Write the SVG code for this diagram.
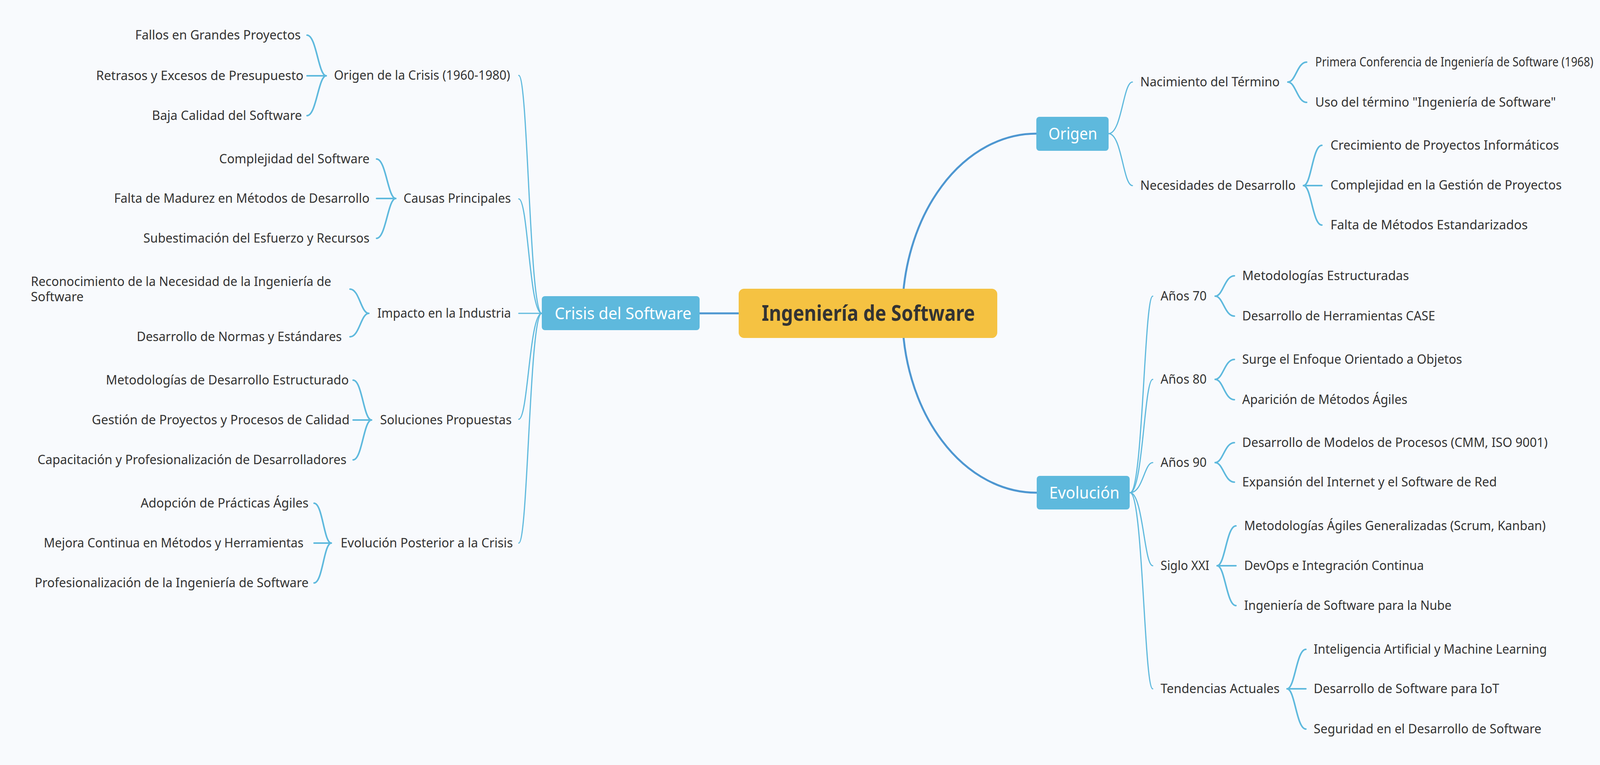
<svg xmlns="http://www.w3.org/2000/svg" width="4242" height="1958" viewBox="0 0 4242 1958">
<style>
.t{font-family:"Noto Sans","Open Sans",sans-serif;font-size:32px;fill:#333333}
.l1{font-family:"Noto Sans","Open Sans",sans-serif;font-size:42px;fill:#ffffff}
.c{font-family:"Noto Sans","Open Sans",sans-serif;font-size:56px;font-weight:bold;fill:#333333}
.box{fill:#5EB9DD}
.main{fill:none;stroke:#4E97D1;stroke-width:5;stroke-linecap:round}
.sub{fill:none;stroke:#5EB9DD;stroke-width:3;stroke-linecap:round}
.br{fill:none;stroke:#5EB9DD;stroke-width:4;stroke-linecap:round}
</style>
<rect x="0" y="0" width="4242" height="1958" fill="#F8FAFD"/>
<g id="connectors">
<path class="main" d="M1791 802 L1891 802"/>
<path class="main" d="M2310 802 A343 461 0 0 1 2653 342"/>
<path class="main" d="M2310 802 A343 459 0 0 0 2654 1261"/>
<path class="sub" d="M1387 802 C1355 802 1352 193 1328 193"/>
<path class="sub" d="M1387 802 C1355 802 1352 509 1328 509"/>
<path class="sub" d="M1387 802 L1328 802"/>
<path class="sub" d="M1387 802 C1355 802 1352 1073 1328 1073"/>
<path class="sub" d="M1387 802 C1355 802 1352 1390 1328 1390"/>
<path class="br" d="M835 194 C815 194 810 90 786 90"/>
<path class="br" d="M835 194 L786 194"/>
<path class="br" d="M835 194 C815 194 810 296 786 296"/>
<path class="br" d="M1013 508 C993 508 988 407 964 407"/>
<path class="br" d="M1013 508 L964 508"/>
<path class="br" d="M1013 508 C993 508 988 610 964 610"/>
<path class="br" d="M944 802 C924 802 920 740 896 740"/>
<path class="br" d="M944 802 C924 802 920 862 896 862"/>
<path class="br" d="M951 1075 C931 1075 927 973 904 973"/>
<path class="br" d="M951 1075 L904 1075"/>
<path class="br" d="M951 1075 C931 1075 927 1177 904 1177"/>
<path class="br" d="M848 1390 C829 1390 826 1288 804 1288"/>
<path class="br" d="M848 1390 L804 1390"/>
<path class="br" d="M848 1390 C829 1390 826 1492 804 1492"/>
<path class="sub" d="M2838 342 C2872 342 2875 210 2899 210"/>
<path class="sub" d="M2838 342 C2872 342 2875 475 2899 475"/>
<path class="br" d="M3297 210 C3317 210 3321 159 3345 159"/>
<path class="br" d="M3297 210 C3317 210 3321 262 3345 262"/>
<path class="br" d="M3337 475 C3357 475 3360 372 3384 372"/>
<path class="br" d="M3337 475 L3384 475"/>
<path class="br" d="M3337 475 C3357 475 3360 576 3384 576"/>
<path class="sub" d="M2893 1261 C2926 1261 2929 758 2951 758"/>
<path class="sub" d="M2893 1261 C2926 1261 2929 971 2951 971"/>
<path class="sub" d="M2893 1261 C2926 1261 2929 1184 2951 1184"/>
<path class="sub" d="M2893 1261 C2926 1261 2929 1448 2951 1448"/>
<path class="sub" d="M2893 1261 C2926 1261 2929 1763 2951 1763"/>
<path class="br" d="M3111 758 C3131 758 3135 706 3160 706"/>
<path class="br" d="M3111 758 C3131 758 3135 809 3160 809"/>
<path class="br" d="M3111 971 C3131 971 3135 920 3160 920"/>
<path class="br" d="M3111 971 C3131 971 3135 1023 3160 1023"/>
<path class="br" d="M3111 1184 C3131 1184 3135 1133 3160 1133"/>
<path class="br" d="M3111 1184 C3131 1184 3135 1234 3160 1234"/>
<path class="br" d="M3116 1448 C3136 1448 3140 1346 3164 1346"/>
<path class="br" d="M3116 1448 L3164 1448"/>
<path class="br" d="M3116 1448 C3136 1448 3140 1550 3164 1550"/>
<path class="br" d="M3295 1763 C3315 1763 3319 1662 3343 1662"/>
<path class="br" d="M3295 1763 L3343 1763"/>
<path class="br" d="M3295 1763 C3315 1763 3319 1866 3343 1866"/>
</g>
<g id="n-central">
<rect x="1891" y="739" width="662" height="126" rx="14" fill="#F5C242"/>
<text class="c" x="1950" y="821" textLength="546" lengthAdjust="spacingAndGlyphs">Ingeniería de Software</text>
</g>
<g id="n-crisis">
<rect class="box" x="1387" y="758" width="404" height="87" rx="8"/>
<text class="l1" x="1420" y="817" textLength="350" lengthAdjust="spacingAndGlyphs">Crisis del Software</text>
</g>
<g id="n-origen">
<rect class="box" x="2653" y="299" width="185" height="87" rx="8"/>
<text class="l1" x="2684" y="357" textLength="125" lengthAdjust="spacingAndGlyphs">Origen</text>
</g>
<g id="n-evolucion">
<rect class="box" x="2654" y="1218" width="238" height="86" rx="8"/>
<text class="l1" x="2686" y="1276" textLength="180" lengthAdjust="spacingAndGlyphs">Evolución</text>
</g>
<g id="n-origen-crisis"><text class="t" x="855" y="204" textLength="451" lengthAdjust="spacingAndGlyphs">Origen de la Crisis (1960-1980)</text></g>
<g id="n-fallos"><text class="t" x="346" y="101" textLength="424" lengthAdjust="spacingAndGlyphs">Fallos en Grandes Proyectos</text></g>
<g id="n-retrasos"><text class="t" x="246" y="205" textLength="531" lengthAdjust="spacingAndGlyphs">Retrasos y Excesos de Presupuesto</text></g>
<g id="n-baja"><text class="t" x="389" y="307" textLength="384" lengthAdjust="spacingAndGlyphs">Baja Calidad del Software</text></g>
<g id="n-causas"><text class="t" x="1033" y="519" textLength="275" lengthAdjust="spacingAndGlyphs">Causas Principales</text></g>
<g id="n-complejidad"><text class="t" x="561" y="418" textLength="385" lengthAdjust="spacingAndGlyphs">Complejidad del Software</text></g>
<g id="n-falta-madurez"><text class="t" x="292" y="519" textLength="654" lengthAdjust="spacingAndGlyphs">Falta de Madurez en Métodos de Desarrollo</text></g>
<g id="n-subestimacion"><text class="t" x="367" y="621" textLength="579" lengthAdjust="spacingAndGlyphs">Subestimación del Esfuerzo y Recursos</text></g>
<g id="n-impacto"><text class="t" x="966" y="813" textLength="342" lengthAdjust="spacingAndGlyphs">Impacto en la Industria</text></g>
<g id="n-reconocimiento"><text class="t" x="79" y="732" textLength="769" lengthAdjust="spacingAndGlyphs">Reconocimiento de la Necesidad de la Ingeniería de</text><text class="t" x="79" y="771" textLength="135" lengthAdjust="spacingAndGlyphs">Software</text></g>
<g id="n-normas"><text class="t" x="350" y="873" textLength="525" lengthAdjust="spacingAndGlyphs">Desarrollo de Normas y Estándares</text></g>
<g id="n-soluciones"><text class="t" x="973" y="1086" textLength="337" lengthAdjust="spacingAndGlyphs">Soluciones Propuestas</text></g>
<g id="n-metod-estruct"><text class="t" x="271" y="984" textLength="622" lengthAdjust="spacingAndGlyphs">Metodologías de Desarrollo Estructurado</text></g>
<g id="n-gestion"><text class="t" x="235" y="1086" textLength="660" lengthAdjust="spacingAndGlyphs">Gestión de Proyectos y Procesos de Calidad</text></g>
<g id="n-capacitacion"><text class="t" x="96" y="1188" textLength="791" lengthAdjust="spacingAndGlyphs">Capacitación y Profesionalización de Desarrolladores</text></g>
<g id="n-evol-post"><text class="t" x="872" y="1401" textLength="441" lengthAdjust="spacingAndGlyphs">Evolución Posterior a la Crisis</text></g>
<g id="n-adopcion"><text class="t" x="360" y="1299" textLength="430" lengthAdjust="spacingAndGlyphs">Adopción de Prácticas Ágiles</text></g>
<g id="n-mejora"><text class="t" x="112" y="1401" textLength="665" lengthAdjust="spacingAndGlyphs">Mejora Continua en Métodos y Herramientas</text></g>
<g id="n-profesionalizacion"><text class="t" x="89" y="1503" textLength="701" lengthAdjust="spacingAndGlyphs">Profesionalización de la Ingeniería de Software</text></g>
<g id="n-nacimiento"><text class="t" x="2919" y="221" textLength="357" lengthAdjust="spacingAndGlyphs">Nacimiento del Término</text></g>
<g id="n-primera"><text class="t" x="3367" y="170" textLength="712" lengthAdjust="spacingAndGlyphs">Primera Conferencia de Ingeniería de Software (1968)</text></g>
<g id="n-uso"><text class="t" x="3367" y="273" textLength="616" lengthAdjust="spacingAndGlyphs">Uso del término "Ingeniería de Software"</text></g>
<g id="n-necesidades"><text class="t" x="2919" y="486" textLength="398" lengthAdjust="spacingAndGlyphs">Necesidades de Desarrollo</text></g>
<g id="n-crecimiento"><text class="t" x="3406" y="383" textLength="585" lengthAdjust="spacingAndGlyphs">Crecimiento de Proyectos Informáticos</text></g>
<g id="n-complejidad-gestion"><text class="t" x="3406" y="485" textLength="592" lengthAdjust="spacingAndGlyphs">Complejidad en la Gestión de Proyectos</text></g>
<g id="n-falta-metodos"><text class="t" x="3406" y="587" textLength="505" lengthAdjust="spacingAndGlyphs">Falta de Métodos Estandarizados</text></g>
<g id="n-anos70"><text class="t" x="2971" y="769" textLength="118" lengthAdjust="spacingAndGlyphs">Años 70</text></g>
<g id="n-metod-estructuradas"><text class="t" x="3180" y="717" textLength="427" lengthAdjust="spacingAndGlyphs">Metodologías Estructuradas</text></g>
<g id="n-case"><text class="t" x="3180" y="820" textLength="494" lengthAdjust="spacingAndGlyphs">Desarrollo de Herramientas CASE</text></g>
<g id="n-anos80"><text class="t" x="2971" y="982" textLength="118" lengthAdjust="spacingAndGlyphs">Años 80</text></g>
<g id="n-surge"><text class="t" x="3180" y="931" textLength="563" lengthAdjust="spacingAndGlyphs">Surge el Enfoque Orientado a Objetos</text></g>
<g id="n-aparicion"><text class="t" x="3180" y="1034" textLength="423" lengthAdjust="spacingAndGlyphs">Aparición de Métodos Ágiles</text></g>
<g id="n-anos90"><text class="t" x="2971" y="1195" textLength="118" lengthAdjust="spacingAndGlyphs">Años 90</text></g>
<g id="n-modelos"><text class="t" x="3180" y="1144" textLength="782" lengthAdjust="spacingAndGlyphs">Desarrollo de Modelos de Procesos (CMM, ISO 9001)</text></g>
<g id="n-expansion"><text class="t" x="3180" y="1245" textLength="652" lengthAdjust="spacingAndGlyphs">Expansión del Internet y el Software de Red</text></g>
<g id="n-siglo"><text class="t" x="2971" y="1459" textLength="125" lengthAdjust="spacingAndGlyphs">Siglo XXI</text></g>
<g id="n-agiles-gen"><text class="t" x="3185" y="1357" textLength="772" lengthAdjust="spacingAndGlyphs">Metodologías Ágiles Generalizadas (Scrum, Kanban)</text></g>
<g id="n-devops"><text class="t" x="3185" y="1459" textLength="460" lengthAdjust="spacingAndGlyphs">DevOps e Integración Continua</text></g>
<g id="n-nube"><text class="t" x="3185" y="1561" textLength="531" lengthAdjust="spacingAndGlyphs">Ingeniería de Software para la Nube</text></g>
<g id="n-tendencias"><text class="t" x="2971" y="1774" textLength="305" lengthAdjust="spacingAndGlyphs">Tendencias Actuales</text></g>
<g id="n-ia"><text class="t" x="3363" y="1673" textLength="597" lengthAdjust="spacingAndGlyphs">Inteligencia Artificial y Machine Learning</text></g>
<g id="n-iot"><text class="t" x="3363" y="1774" textLength="475" lengthAdjust="spacingAndGlyphs">Desarrollo de Software para IoT</text></g>
<g id="n-seguridad"><text class="t" x="3363" y="1877" textLength="583" lengthAdjust="spacingAndGlyphs">Seguridad en el Desarrollo de Software</text></g>
</svg>
